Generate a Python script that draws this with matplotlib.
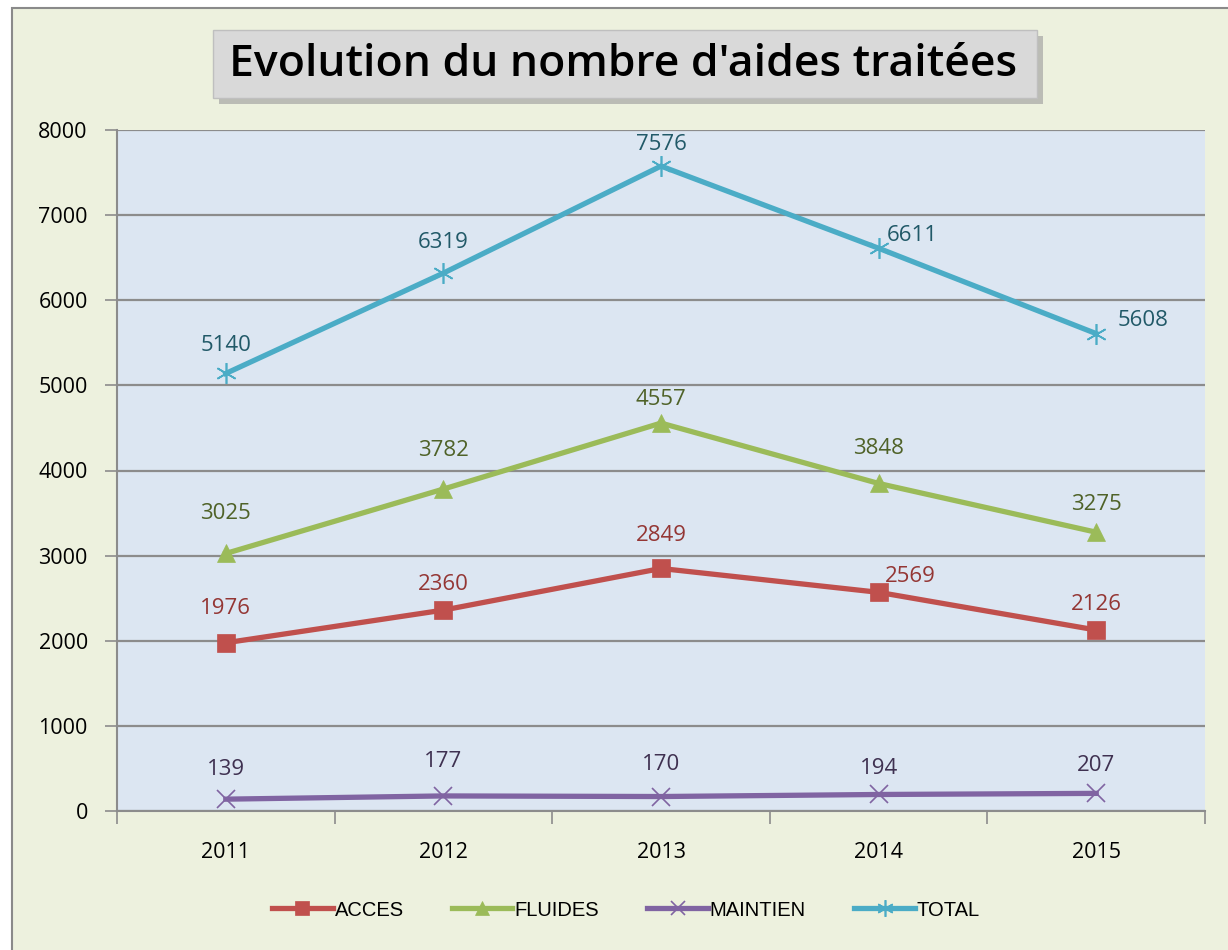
import matplotlib.pyplot as plt
import matplotlib.patches as mpatches
import numpy as np

# data
years = ["2011", "2012", "2013", "2014", "2015"]
acces = [1976, 2360, 2849, 2569, 2126]
fluides = [3025, 3782, 4557, 3848, 3275]
maintien = [139, 177, 170, 194, 207]
total = [5140, 6319, 7576, 6611, 5608]

# label offsets in pixels (dx, dy) for each point
off_acces = [(0, 34), (0, 26), (0, 33), (32, 16), (0, 26)]
off_fluides = [(0, 40), (0, 39), (0, 24), (0, 35), (0, 28)]
off_maintien = [(0, 30), (0, 34), (0, 32), (0, 26), (0, 28)]
off_total = [(0, 28), (0, 31), (0, 22), (34, 13), (47, 13)]

fig = plt.figure(figsize=(12.28, 9.5), dpi=100)
fig.patch.set_facecolor("white")

# outer chart area
bg = mpatches.Rectangle((12 / 1228, -0.01), 1.0, 1 - 8 / 950 + 0.01,
                        transform=fig.transFigure, facecolor="#EDF1DE",
                        edgecolor="#8A8A8A", linewidth=1.5, zorder=-3)
fig.patches.append(bg)

# title box with shadow
shadow = mpatches.Rectangle((219 / 1228, 1 - 104 / 950), 824 / 1228, 68 / 950,
                            transform=fig.transFigure, facecolor="#9A9A9A",
                            edgecolor="none", alpha=0.6, zorder=-2)
box = mpatches.Rectangle((213 / 1228, 1 - 98 / 950), 824 / 1228, 68 / 950,
                         transform=fig.transFigure, facecolor="#D9D9D9",
                         edgecolor="#BFBFBF", linewidth=1, zorder=-1)
fig.patches.extend([shadow, box])
fig.text(623 / 1228, 1 - 64 / 950, "Evolution du nombre d'aides traitées",
         ha="center", va="center", fontsize=32, fontfamily="Open Sans",
         fontweight="semibold", color="black", zorder=3)

ax = fig.add_axes([117 / 1228, 1 - 811 / 950, 1088 / 1228, 681 / 950])
ax.set_zorder(5)
ax.set_facecolor("#DCE6F2")

x = np.arange(len(years))
series = [
    ("ACCES", acces, "#C0504D", "#943634", "s", 13, off_acces),
    ("FLUIDES", fluides, "#9BBB59", "#4F6228", "^", 13, off_fluides),
    ("MAINTIEN", maintien, "#8064A2", "#3F3151", "x", 13, off_maintien),
    ("TOTAL", total, "#4BACC6", "#215968", (6, 2, 0), 15, off_total),
]
for name, vals, col, lcol, mk, ms, offs in series:
    ax.plot(x, vals, color=col, linewidth=3.8, marker=mk, markersize=ms,
            markeredgewidth=1.2 if mk in ("x", (6, 2, 0)) else 0.5,
            markeredgecolor=col, label=name, zorder=3)
    for xi, v, (dx, dy) in zip(x, vals, offs):
        ax.annotate(str(v), (xi, v), xytext=(dx, dy), textcoords="offset pixels",
                    ha="center", va="center", fontsize=16, color=lcol,
                    fontfamily="Open Sans", fontweight="medium", zorder=4)

ax.set_xlim(-0.5, 4.5)
ax.set_ylim(0, 8000)
ax.set_yticks(np.arange(0, 8001, 1000))
ax.yaxis.grid(True, color="#8C8C8C", linewidth=1.6)
ax.set_axisbelow(True)
ax.set_xticks(x)
ax.set_xticklabels(years)
ax.set_xticks(np.arange(-0.5, 4.6, 1), minor=True)
ax.tick_params(axis="x", which="major", length=0, pad=22, labelsize=15.5)
ax.tick_params(axis="x", which="minor", length=9, width=1.2, color="#8C8C8C",
               direction="out")
ax.tick_params(axis="y", length=9, width=1.2, color="#8C8C8C", pad=12,
               labelsize=15.5)
for lab in ax.get_xticklabels() + ax.get_yticklabels():
    lab.set_fontfamily("Open Sans")
for s in ["top", "right"]:
    ax.spines[s].set_visible(False)
for s in ["left", "bottom"]:
    ax.spines[s].set_color("#8C8C8C")
    ax.spines[s].set_linewidth(1.5)

leg = fig.legend(loc="center", bbox_to_anchor=(626 / 1228, 1 - 910 / 950),
                 ncol=4, frameon=False, handlelength=3.0, handletextpad=0.1,
                 columnspacing=2.4, markerscale=0.8,
                 prop={"family": "Liberation Sans", "size": 14.5})

fig.savefig("out.png", dpi=100, facecolor=fig.get_facecolor())
